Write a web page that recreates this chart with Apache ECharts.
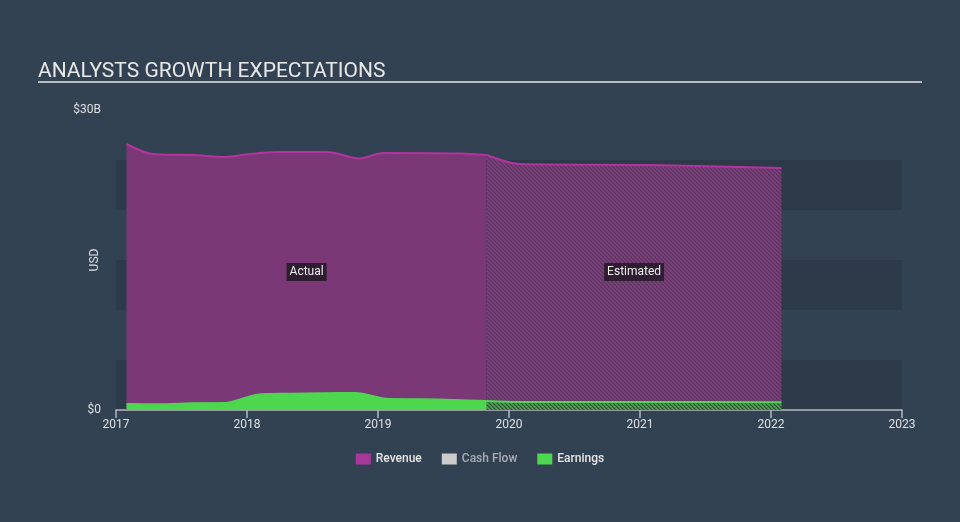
<!DOCTYPE html>
<html>
<head>
<meta charset="utf-8">
<script src="https://cdn.jsdelivr.net/npm/echarts@6/dist/echarts.min.js"></script>
<style>
  html, body { margin: 0; padding: 0; background: #334252; }
  #chart { width: 960px; height: 522px; }
</style>
</head>
<body>
<div id="chart"></div>
<script>
// data (years as decimals, values in USD)
const revenueActualYears = [2017.08, 2017.28, 2017.59, 2017.84, 2018.02, 2018.23, 2018.61, 2018.86, 2019.04, 2019.63, 2019.83]
const revenueActual = [26.6e9, 25.6e9, 25.5e9, 25.3e9, 25.6e9, 25.8e9, 25.8e9, 25.15e9, 25.7e9, 25.65e9, 25.5e9]
const revenueEstYears = [2019.83, 2020.08, 2021.08, 2022.08]
const revenueEst = [25.5e9, 24.6e9, 24.5e9, 24.2e9]

const earningsActualYears = [2017.08, 2017.33, 2017.58, 2017.83, 2018.08, 2018.33, 2018.58, 2018.83, 2019.08, 2019.33, 2019.58, 2019.83]
const earningsActual = [0.63e9, 0.6e9, 0.7e9, 0.72e9, 1.55e9, 1.65e9, 1.7e9, 1.72e9, 1.12e9, 1.1e9, 1.02e9, 0.93e9]
const earningsEstYears = [2019.83, 2020.08, 2021.08, 2022.08]
const earningsEst = [0.9e9, 0.8e9, 0.8e9, 0.77e9]

const yearTicks = [2017, 2018, 2019, 2020, 2021, 2022, 2023]

const pairs = (xs, ys) => xs.map((x, i) => [x, ys[i]])

// hatch pattern for the estimated part
function hatch(bg, stripe) {
  const c = document.createElement('canvas')
  c.width = 4
  c.height = 4
  const ctx = c.getContext('2d')
  ctx.fillStyle = bg
  ctx.fillRect(0, 0, 4, 4)
  ctx.strokeStyle = stripe
  ctx.lineWidth = 1.6
  ctx.beginPath()
  ctx.moveTo(0, 0); ctx.lineTo(4, 4)
  ctx.moveTo(-1, 3); ctx.lineTo(1, 5)
  ctx.moveTo(3, -1); ctx.lineTo(5, 1)
  ctx.stroke()
  return { image: c, repeat: 'repeat' }
}

const purple = '#a8379a'
const purpleLine = '#b5339f'
const purpleFill = '#7a3876'
const green = '#4dd74f'

const chart = echarts.init(document.getElementById('chart'))

chart.setOption({
  backgroundColor: '#334252',
  animation: false,
  textStyle: { fontFamily: 'Roboto' },
  title: {
    text: 'ANALYSTS GROWTH EXPECTATIONS',
    left: 33,
    top: 56,
    textStyle: { color: '#e8e8e8', fontSize: 21, fontWeight: 'normal', fontFamily: 'Roboto' }
  },
  graphic: [{
    type: 'line',
    shape: { x1: 38, y1: 82, x2: 922, y2: 82 },
    style: { stroke: '#b9bdc2', lineWidth: 2 }
  }, {
    type: 'text',
    x: 95,
    y: 260,
    rotation: Math.PI / 2,
    style: { text: 'USD', fill: '#dde0e3', fontSize: 12, fontFamily: 'Roboto', align: 'center', verticalAlign: 'middle' }
  }],
  legend: {
    bottom: 52,
    left: 'center',
    itemWidth: 15,
    itemHeight: 11,
    itemGap: 20,
    icon: 'rect',
    textStyle: { color: '#e6e6e6', fontSize: 12, fontWeight: 500 },
    data: [
      { name: 'Revenue', itemStyle: { color: purple } },
      { name: 'Cash Flow', itemStyle: { color: '#cccccc' }, textStyle: { color: '#a9adb3' } },
      { name: 'Earnings', itemStyle: { color: green } }
    ]
  },
  grid: { left: 116, right: 58, top: 110, bottom: 112 },
  xAxis: {
    type: 'value',
    min: 2017,
    max: 2023,
    interval: 1,
    axisLine: { lineStyle: { color: '#b4bac1', width: 1.5 } },
    axisTick: { length: 8, lineStyle: { color: '#b4bac1', width: 1.5 } },
    axisLabel: { color: '#dde0e3', fontSize: 12, margin: 9, formatter: v => yearTicks.includes(v) ? String(v) : '' },
    splitLine: { show: false }
  },
  yAxis: {
    type: 'value',
    min: 0,
    max: 30e9,
    interval: 5e9,
    axisLine: { show: false },
    axisTick: { show: false },
    axisLabel: {
      color: '#dde0e3', fontSize: 12, margin: 15,
      formatter: v => v === 0 ? '$0' : (v === 30e9 ? '$30B' : '')
    },
    splitLine: { show: false },
    splitArea: { show: true, areaStyle: { color: ['rgba(30,40,52,0.28)', 'rgba(0,0,0,0)'] } }
  },
  series: [
    {
      name: 'Revenue',
      type: 'line',
      smooth: 0.3,
      symbol: 'none',
      data: pairs(revenueActualYears, revenueActual),
      itemStyle: { color: purple },
      lineStyle: { color: purpleLine, width: 2 },
      areaStyle: { color: purpleFill, opacity: 1 },
      markPoint: {
        symbol: 'rect',
        symbolSize: 0,
        label: {
          show: true, position: 'inside', formatter: 'Actual',
          color: '#eeeeee', fontSize: 12, backgroundColor: '#2f1e32', padding: [3, 3]
        },
        data: [{ coord: [2018.455, 13.8e9] }]
      }
    },
    {
      name: 'Revenue',
      type: 'line',
      smooth: 0.3,
      symbol: 'none',
      data: pairs(revenueEstYears, revenueEst),
      itemStyle: { color: purple },
      lineStyle: { color: purpleLine, width: 2 },
      areaStyle: { color: hatch('#523858', '#853c83'), opacity: 1 },
      markPoint: {
        symbol: 'rect',
        symbolSize: 0,
        label: {
          show: true, position: 'inside', formatter: 'Estimated',
          color: '#eeeeee', fontSize: 12, backgroundColor: '#2f1e32', padding: [3, 3]
        },
        data: [{ coord: [2020.955, 13.8e9] }]
      }
    },
    {
      name: 'Cash Flow',
      type: 'line',
      symbol: 'none',
      data: [],
      itemStyle: { color: '#cccccc' }
    },
    {
      name: 'Earnings',
      type: 'line',
      smooth: 0.3,
      symbol: 'none',
      data: pairs(earningsActualYears, earningsActual),
      itemStyle: { color: green },
      lineStyle: { color: green, width: 1.5 },
      areaStyle: { color: green, opacity: 1 }
    },
    {
      name: 'Earnings',
      type: 'line',
      smooth: 0.3,
      symbol: 'none',
      data: pairs(earningsEstYears, earningsEst),
      itemStyle: { color: green },
      lineStyle: { color: green, width: 2 },
      areaStyle: { color: hatch('#34503c', '#4aa04d'), opacity: 1 }
    }
  ]
})
</script>
</body>
</html>
